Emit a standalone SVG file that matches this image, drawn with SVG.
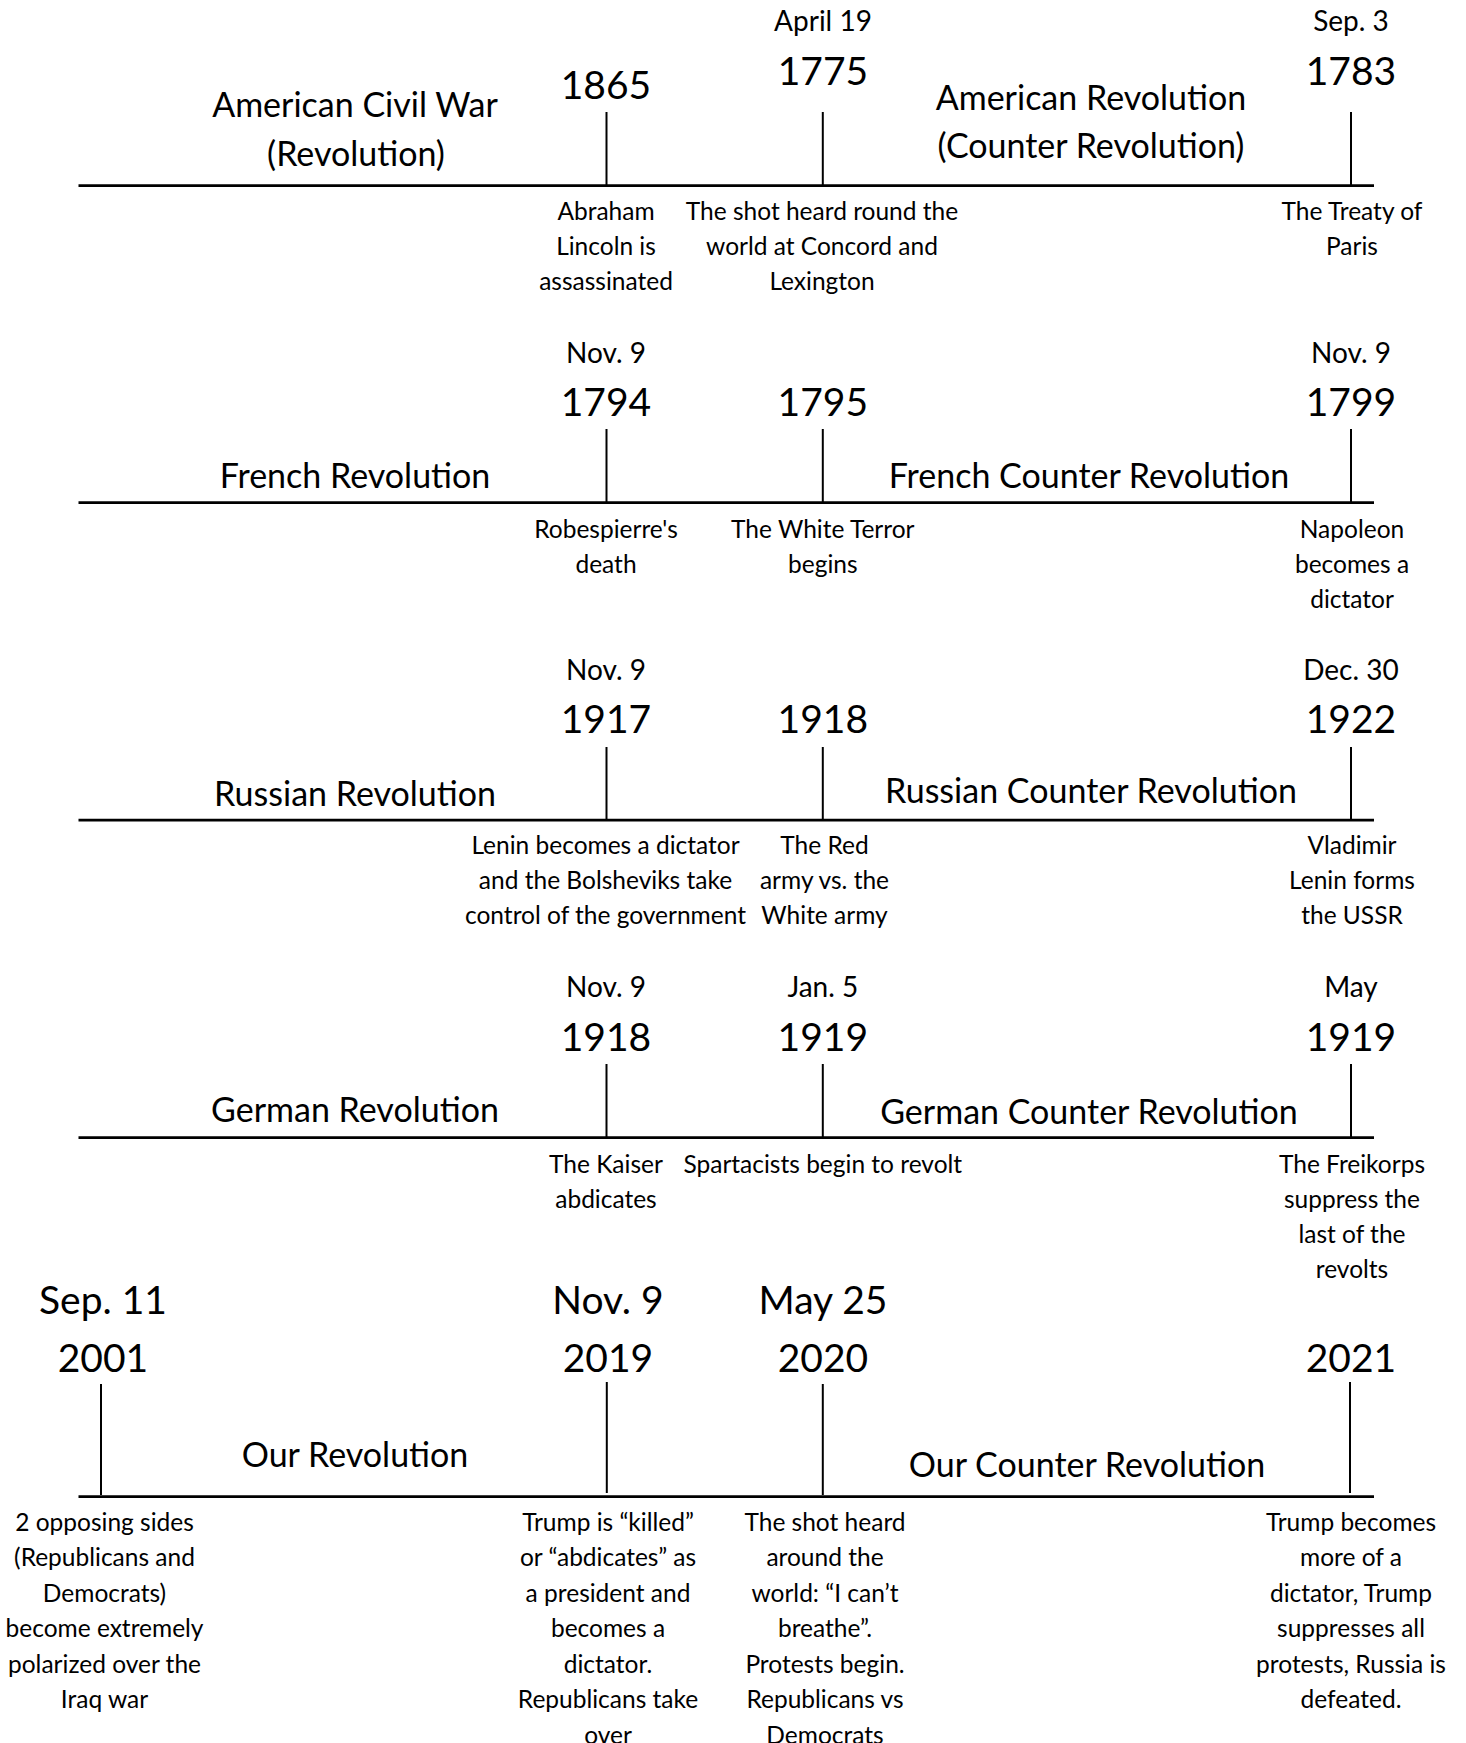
<svg xmlns="http://www.w3.org/2000/svg" width="1466" height="1743" viewBox="0 0 1466 1743">
<style>
.axis{stroke:#000;stroke-width:2.75;fill:none}
.tick{stroke:#000;stroke-width:2;fill:none}
text{font-family:Lato,"Liberation Sans",sans-serif;fill:#000;text-anchor:middle}
.yr{font-size:39px}
.dt{font-size:28px}
.ttl{font-size:34px}
.desc{font-size:24.5px}
</style>
<rect width="1466" height="1743" fill="#fff"/>
<g id="connectors">
<line class="axis" x1="78.5" y1="185.5" x2="1374" y2="185.5"/>
<line class="tick" x1="606.5" y1="112" x2="606.5" y2="185"/>
<line class="tick" x1="822.8" y1="112" x2="822.8" y2="185"/>
<line class="tick" x1="1351" y1="112" x2="1351" y2="185"/>
<line class="axis" x1="78.5" y1="502.5" x2="1374" y2="502.5"/>
<line class="tick" x1="606.5" y1="429" x2="606.5" y2="502"/>
<line class="tick" x1="822.8" y1="429" x2="822.8" y2="502"/>
<line class="tick" x1="1351" y1="429" x2="1351" y2="502"/>
<line class="axis" x1="78.5" y1="820" x2="1374" y2="820"/>
<line class="tick" x1="606.5" y1="747" x2="606.5" y2="819"/>
<line class="tick" x1="822.8" y1="747" x2="822.8" y2="819"/>
<line class="tick" x1="1351" y1="747" x2="1351" y2="819"/>
<line class="axis" x1="78.5" y1="1137.5" x2="1374" y2="1137.5"/>
<line class="tick" x1="606.5" y1="1064" x2="606.5" y2="1137"/>
<line class="tick" x1="822.8" y1="1064" x2="822.8" y2="1137"/>
<line class="tick" x1="1351" y1="1064" x2="1351" y2="1137"/>
<line class="axis" x1="78.5" y1="1496.5" x2="1374" y2="1496.5"/>
<line class="tick" x1="101" y1="1384" x2="101" y2="1495"/>
<line class="tick" x1="606.8" y1="1382" x2="606.8" y2="1493"/>
<line class="tick" x1="822.8" y1="1384" x2="822.8" y2="1495"/>
<line class="tick" x1="1350" y1="1382" x2="1350" y2="1493"/>
</g>
<g id="tl1">
<g id="tl1-title"><text class="ttl" x="355" y="117">American Civil War</text><text class="ttl" x="356" y="166">(Revolution)</text></g>
<g id="tl1-1865"><text class="yr" x="606" y="99">1865</text><text class="desc"><tspan x="606" y="220">Abraham</tspan><tspan x="606" y="255">Lincoln is</tspan><tspan x="606" y="290">assassinated</tspan></text></g>
<g id="tl1-1775"><text class="dt" x="823" y="31">April 19</text><text class="yr" x="823" y="85">1775</text><text class="desc"><tspan x="822" y="220">The shot heard round the</tspan><tspan x="822" y="255">world at Concord and</tspan><tspan x="822" y="290">Lexington</tspan></text></g>
<g id="tl1-title2"><text class="ttl" x="1091" y="110">American Revolution</text><text class="ttl" x="1091" y="158">(Counter Revolution)</text></g>
<g id="tl1-1783"><text class="dt" x="1351" y="31">Sep. 3</text><text class="yr" x="1351" y="85">1783</text><text class="desc"><tspan x="1352" y="220">The Treaty of</tspan><tspan x="1352" y="255">Paris</tspan></text></g>
</g>
<g id="tl2">
<g id="tl2-title"><text class="ttl" x="355" y="488">French Revolution</text></g>
<g id="tl2-1794"><text class="dt" x="606" y="362.7">Nov. 9</text><text class="yr" x="606" y="416">1794</text><text class="desc"><tspan x="606" y="538">Robespierre's</tspan><tspan x="606" y="573">death</tspan></text></g>
<g id="tl2-1795"><text class="yr" x="822.8" y="416">1795</text><text class="desc"><tspan x="822.8" y="538">The White Terror</tspan><tspan x="822.8" y="573">begins</tspan></text></g>
<g id="tl2-title2"><text class="ttl" x="1089" y="488">French Counter Revolution</text></g>
<g id="tl2-1799"><text class="dt" x="1351" y="362.7">Nov. 9</text><text class="yr" x="1351" y="416">1799</text><text class="desc"><tspan x="1352" y="538">Napoleon</tspan><tspan x="1352" y="573">becomes a</tspan><tspan x="1352" y="608">dictator</tspan></text></g>
</g>
<g id="tl3">
<g id="tl3-title"><text class="ttl" x="355" y="805.7">Russian Revolution</text></g>
<g id="tl3-1917"><text class="dt" x="606" y="680">Nov. 9</text><text class="yr" x="606" y="733">1917</text><text class="desc"><tspan x="605.5" y="854">Lenin becomes a dictator</tspan><tspan x="605.5" y="889">and the Bolsheviks take</tspan><tspan x="605.5" y="924">control of the government</tspan></text></g>
<g id="tl3-1918"><text class="yr" x="822.8" y="733">1918</text><text class="desc"><tspan x="824.5" y="854">The Red</tspan><tspan x="824.5" y="889">army vs. the</tspan><tspan x="824.5" y="924">White army</tspan></text></g>
<g id="tl3-title2"><text class="ttl" x="1091" y="803">Russian Counter Revolution</text></g>
<g id="tl3-1922"><text class="dt" x="1351" y="680">Dec. 30</text><text class="yr" x="1351" y="733">1922</text><text class="desc"><tspan x="1352" y="854">Vladimir</tspan><tspan x="1352" y="889">Lenin forms</tspan><tspan x="1352" y="924">the USSR</tspan></text></g>
</g>
<g id="tl4">
<g id="tl4-title"><text class="ttl" x="355" y="1122">German Revolution</text></g>
<g id="tl4-1918"><text class="dt" x="606" y="997">Nov. 9</text><text class="yr" x="606" y="1050.7">1918</text><text class="desc"><tspan x="606" y="1172.7">The Kaiser</tspan><tspan x="606" y="1207.7">abdicates</tspan></text></g>
<g id="tl4-1919a"><text class="dt" x="822.8" y="997">Jan. 5</text><text class="yr" x="822.8" y="1050.7">1919</text><text class="desc"><tspan x="822.8" y="1172.7">Spartacists begin to revolt</tspan></text></g>
<g id="tl4-title2"><text class="ttl" x="1089" y="1124">German Counter Revolution</text></g>
<g id="tl4-1919b"><text class="dt" x="1351" y="997">May</text><text class="yr" x="1351" y="1050.7">1919</text><text class="desc"><tspan x="1352" y="1172.7">The Freikorps</tspan><tspan x="1352" y="1207.7">suppress the</tspan><tspan x="1352" y="1242.7">last of the</tspan><tspan x="1352" y="1277.7">revolts</tspan></text></g>
</g>
<g id="tl5">
<g id="tl5-2001"><text class="yr" x="103" y="1314">Sep. 11</text><text class="yr" x="103" y="1372">2001</text><text class="desc"><tspan x="104.5" y="1530.7">2 opposing sides</tspan><tspan x="104.5" y="1566.2">(Republicans and</tspan><tspan x="104.5" y="1601.7">Democrats)</tspan><tspan x="104.5" y="1637.2">become extremely</tspan><tspan x="104.5" y="1672.7">polarized over the</tspan><tspan x="104.5" y="1708.2">Iraq war</tspan></text></g>
<g id="tl5-title"><text class="ttl" x="355" y="1466.7">Our Revolution</text></g>
<g id="tl5-2019"><text class="yr" x="608" y="1314">Nov. 9</text><text class="yr" x="608" y="1372">2019</text><text class="desc"><tspan x="608" y="1530.7">Trump is “killed”</tspan><tspan x="608" y="1566.2">or “abdicates” as</tspan><tspan x="608" y="1601.7">a president and</tspan><tspan x="608" y="1637.2">becomes a</tspan><tspan x="608" y="1672.7">dictator.</tspan><tspan x="608" y="1708.2">Republicans take</tspan><tspan x="608" y="1743.7">over</tspan></text></g>
<g id="tl5-2020"><text class="yr" x="823" y="1314">May 25</text><text class="yr" x="823" y="1372">2020</text><text class="desc"><tspan x="825" y="1530.7">The shot heard</tspan><tspan x="825" y="1566.2">around the</tspan><tspan x="825" y="1601.7">world: “I can’t</tspan><tspan x="825" y="1637.2">breathe”.</tspan><tspan x="825" y="1672.7">Protests begin.</tspan><tspan x="825" y="1708.2">Republicans vs</tspan><tspan x="825" y="1743.7">Democrats</tspan></text></g>
<g id="tl5-title2"><text class="ttl" x="1087" y="1476.7">Our Counter Revolution</text></g>
<g id="tl5-2021"><text class="yr" x="1351" y="1372">2021</text><text class="desc"><tspan x="1351" y="1530.7">Trump becomes</tspan><tspan x="1351" y="1566.2">more of a</tspan><tspan x="1351" y="1601.7">dictator, Trump</tspan><tspan x="1351" y="1637.2">suppresses all</tspan><tspan x="1351" y="1672.7">protests, Russia is</tspan><tspan x="1351" y="1708.2">defeated.</tspan></text></g>
</g>
</svg>
